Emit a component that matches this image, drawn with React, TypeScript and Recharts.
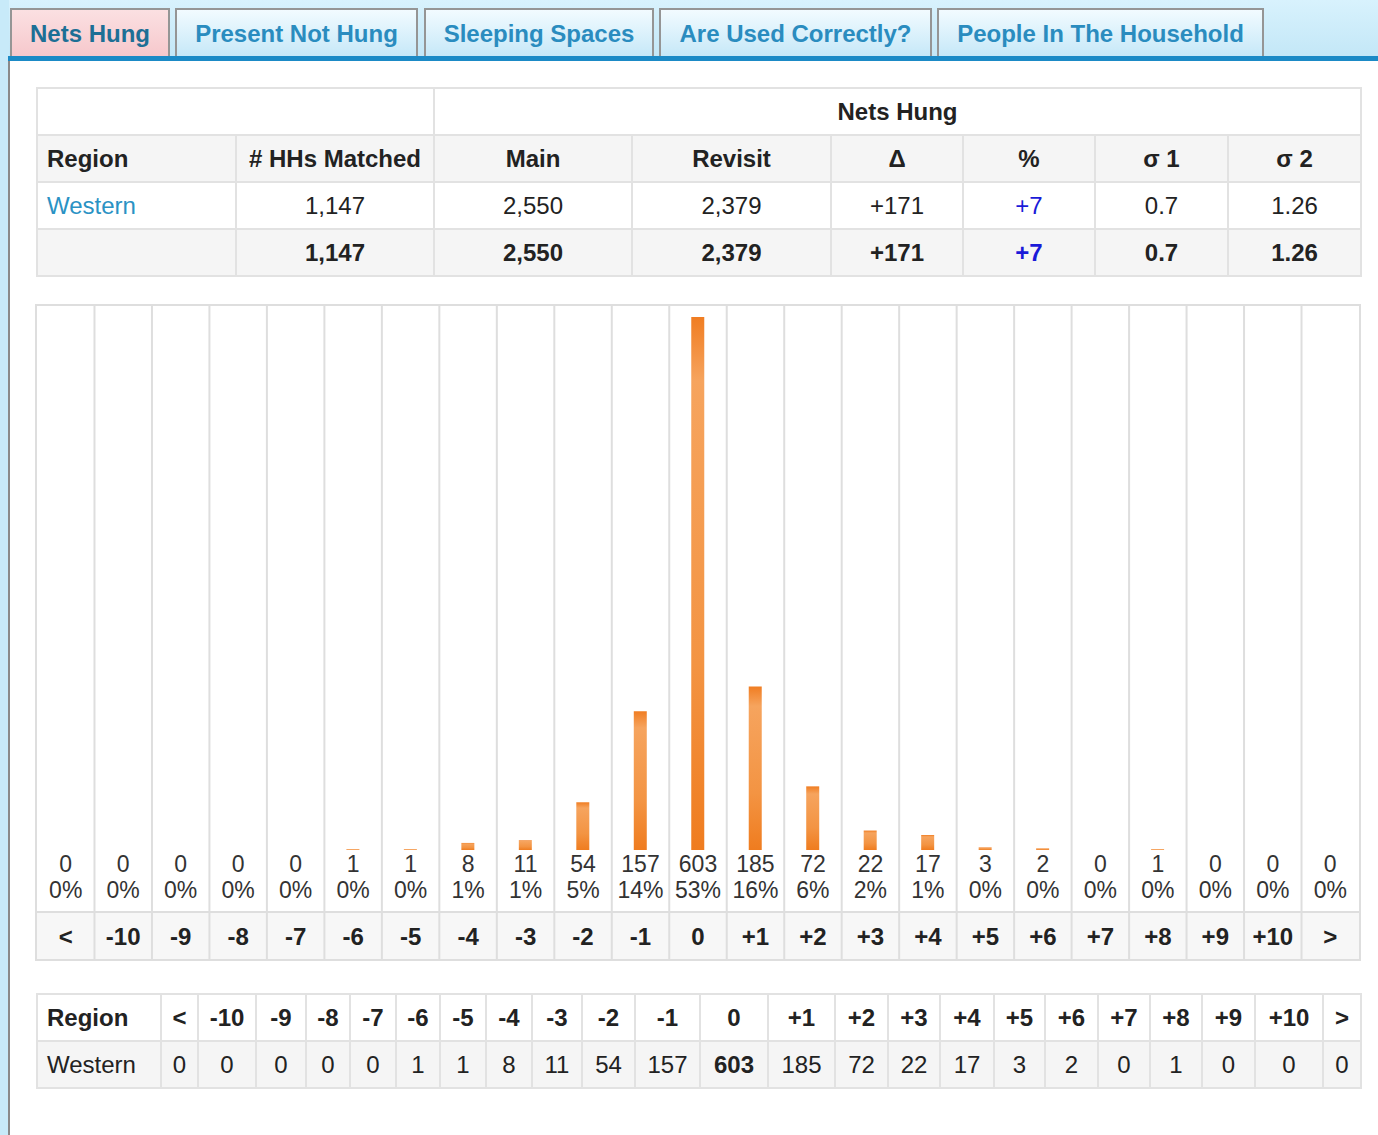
import React from 'react';
import { Bar, BarChart, XAxis, YAxis } from 'recharts';

const FONT = '"Liberation Sans", Arial, Helvetica, sans-serif';

const tabs = ['Nets Hung', 'Present Not Hung', 'Sleeping Spaces', 'Are Used Correctly?', 'People In The Household'];
const summaryHeaders = ['Region', '# HHs Matched', 'Main', 'Revisit', 'Δ', '%', 'σ 1', 'σ 2'];
const regionRow = ['Western', '1,147', '2,550', '2,379', '+171', '+7', '0.7', '1.26'];
const totalRow = ['', '1,147', '2,550', '2,379', '+171', '+7', '0.7', '1.26'];

const categories = ['<', '-10', '-9', '-8', '-7', '-6', '-5', '-4', '-3', '-2', '-1', '0',
  '+1', '+2', '+3', '+4', '+5', '+6', '+7', '+8', '+9', '+10', '>'];
const counts = [0, 0, 0, 0, 0, 1, 1, 8, 11, 54, 157, 603, 185, 72, 22, 17, 3, 2, 0, 1, 0, 0, 0];
const percents = ['0%', '0%', '0%', '0%', '0%', '0%', '0%', '1%', '1%', '5%', '14%', '53%',
  '16%', '6%', '2%', '1%', '0%', '0%', '0%', '0%', '0%', '0%', '0%'];

const data = categories.map((c, i) => ({ diff: c, count: counts[i] }));

// layout
const tabBoxes = [[10, 160], [175, 243], [424, 230], [659, 273], [937, 327]];
const summaryCols = [199, 198, 198, 199, 132, 132, 133, 133];
const bottomCols = [124, 37, 58, 50, 44, 46, 44, 46, 46, 50, 53, 65, 68, 67, 53, 52, 54, 51, 53, 52, 52, 53, 68, 38];
const CHART_W = 1322;
const CHART_H = 653;
const AXIS_H = 109;
const BAND = CHART_W / categories.length;
const GRID = '#dedede';
const BAND_BG = '#f7f7f7';

function ColumnTick({ x, y, payload, index }: any) {
  const left = x - BAND / 2;
  const i = payload?.index ?? index;
  return (
    <g>
      <rect x={left} y={y + 62} width={BAND} height={CHART_H - (y + 62)} fill={BAND_BG} />
      <line x1={left} x2={left + BAND} y1={y + 62} y2={y + 62} stroke={GRID} strokeWidth={2} />
      {i > 0 && <line x1={left} x2={left} y1={0} y2={CHART_H} stroke={GRID} strokeWidth={2} />}
      <text x={x} y={y + 14} textAnchor="middle" dominantBaseline="central"
        fontFamily={FONT} fontSize={23} fill="#333">{counts[i]}</text>
      <text x={x} y={y + 40} textAnchor="middle" dominantBaseline="central"
        fontFamily={FONT} fontSize={23} fill="#333">{percents[i]}</text>
      <text x={x} y={y + 86} textAnchor="middle" dominantBaseline="central"
        fontFamily={FONT} fontSize={24} fontWeight="bold" fill="#222">{payload.value}</text>
    </g>
  );
}

const cell: React.CSSProperties = {
  border: '2px solid #e2e2e2',
  padding: 0,
  height: 45,
  textAlign: 'center',
  fontSize: 24,
  color: '#222',
};

export default function App() {
  const maxCount = Math.max(...counts);
  return (
    <div style={{ position: 'absolute', left: 0, top: 0, width: 1378, height: 1135, background: '#fff', fontFamily: FONT, overflow: 'hidden' }}>
      <div style={{ position: 'absolute', left: 0, top: 0, width: 1378, height: 57, background: 'linear-gradient(#d8f2fd, #c3e7f7)' }} />
      <div style={{ position: 'absolute', left: 0, top: 0, width: 9, height: 1135, background: '#c8eaf9' }} />
      <div style={{ position: 'absolute', left: 8, top: 56, width: 2, height: 1079, background: '#8a8a8a' }} />
      <div style={{ position: 'absolute', left: 8, top: 56, width: 1370, height: 5, background: '#1b8ac6' }} />

      {tabs.map((t, i) => (
        <div key={t} style={{
          position: 'absolute', left: tabBoxes[i][0], top: 8, width: tabBoxes[i][1], height: 48,
          boxSizing: 'border-box', border: '2px solid #959595', borderBottom: 'none',
          background: i === 0 ? 'linear-gradient(#fbe0e2, #f6c8cc)' : 'linear-gradient(#f2fbff, #c6e8f8)',
          color: i === 0 ? '#1d6f95' : '#2a8cbf', fontWeight: 'bold', fontSize: 24,
          display: 'flex', alignItems: 'center', justifyContent: 'center', paddingTop: 1,
        }}>{t}</div>
      ))}

      <table style={{ position: 'absolute', left: 36, top: 87, width: 1324, borderCollapse: 'collapse', tableLayout: 'fixed' }}>
        <colgroup>{summaryCols.map((w, i) => <col key={i} style={{ width: w }} />)}</colgroup>
        <tbody>
          <tr>
            <td colSpan={2} style={cell} />
            <td colSpan={6} style={{ ...cell, fontWeight: 'bold' }}>Nets Hung</td>
          </tr>
          <tr style={{ background: '#f5f5f5' }}>
            {summaryHeaders.map((h, i) => (
              <td key={h} style={{ ...cell, fontWeight: 'bold', textAlign: i === 0 ? 'left' : 'center', paddingLeft: i === 0 ? 9 : 0 }}>{h}</td>
            ))}
          </tr>
          <tr>
            {regionRow.map((v, i) => (
              <td key={i} style={{ ...cell, textAlign: i === 0 ? 'left' : 'center', paddingLeft: i === 0 ? 9 : 0,
                color: i === 0 ? '#2a92c4' : i === 5 ? '#1a1ad8' : '#222' }}>{v}</td>
            ))}
          </tr>
          <tr style={{ background: '#f5f5f5' }}>
            {totalRow.map((v, i) => (
              <td key={i} style={{ ...cell, fontWeight: 'bold', color: i === 5 ? '#1a1ad8' : '#222' }}>{v}</td>
            ))}
          </tr>
        </tbody>
      </table>

      <div style={{ position: 'absolute', left: 36, top: 305, width: CHART_W, height: CHART_H, border: `2px solid ${GRID}`, boxSizing: 'content-box', marginLeft: -1, marginTop: -1 }}>
        <BarChart width={CHART_W} height={CHART_H} data={data} margin={{ top: 11, right: 0, bottom: 0, left: 0 }}>
          <defs>
            <linearGradient id="barGrad" x1="0" y1="0" x2="0" y2="1">
              <stop offset="0%" stopColor="#f07d22" />
              <stop offset="12%" stopColor="#f6a45e" />
              <stop offset="65%" stopColor="#f39443" />
              <stop offset="100%" stopColor="#ef7c1f" />
            </linearGradient>
          </defs>
          <XAxis dataKey="diff" interval={0} height={AXIS_H} tickLine={false} axisLine={false}
            tickSize={0} tickMargin={0} tick={<ColumnTick />} />
          <YAxis hide domain={[0, maxCount]} allowDataOverflow />
          <Bar dataKey="count" fill="url(#barGrad)" barSize={13} isAnimationActive={false} />
        </BarChart>
      </div>

      <table style={{ position: 'absolute', left: 36, top: 993, width: 1324, borderCollapse: 'collapse', tableLayout: 'fixed' }}>
        <colgroup>{bottomCols.map((w, i) => <col key={i} style={{ width: w }} />)}</colgroup>
        <tbody>
          <tr>
            <td style={{ ...cell, fontWeight: 'bold', textAlign: 'left', paddingLeft: 9 }}>Region</td>
            {categories.map(c => <td key={c} style={{ ...cell, fontWeight: 'bold' }}>{c}</td>)}
          </tr>
          <tr style={{ background: '#f5f5f5' }}>
            <td style={{ ...cell, textAlign: 'left', paddingLeft: 9 }}>Western</td>
            {counts.map((v, i) => (
              <td key={i} style={{ ...cell, fontWeight: v === maxCount ? 'bold' : 'normal' }}>{v}</td>
            ))}
          </tr>
        </tbody>
      </table>
    </div>
  );
}
